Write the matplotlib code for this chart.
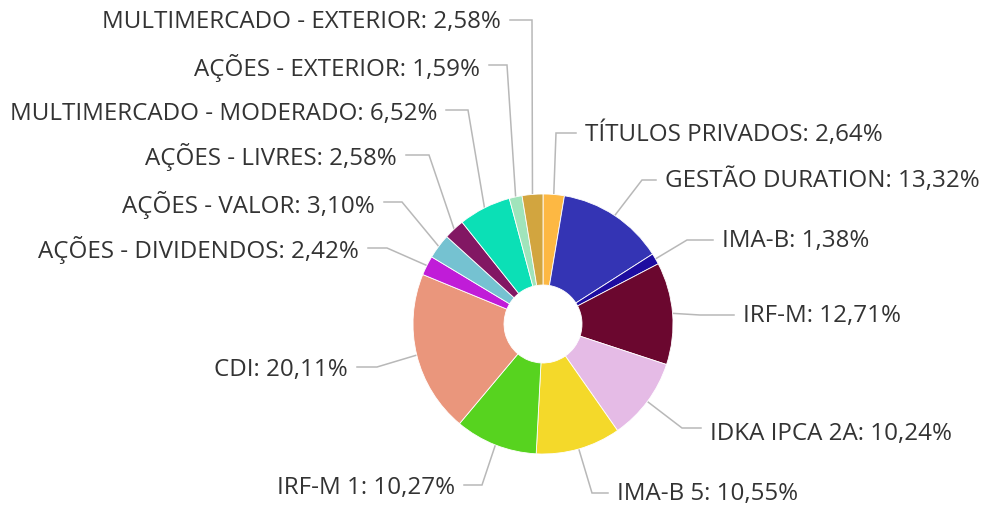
import numpy as np
import matplotlib
matplotlib.use("Agg")
from matplotlib import pyplot as plt

W, H = 983, 507

labels = ["TÍTULOS PRIVADOS", "GESTÃO DURATION", "IMA-B", "IRF-M", "IDKA IPCA 2A",
          "IMA-B 5", "IRF-M 1", "CDI", "AÇÕES - DIVIDENDOS", "AÇÕES - VALOR",
          "AÇÕES - LIVRES", "MULTIMERCADO - MODERADO", "AÇÕES - EXTERIOR",
          "MULTIMERCADO - EXTERIOR"]
values = [2.64, 13.32, 1.38, 12.71, 10.24, 10.55, 10.27, 20.11, 2.42, 3.10,
          2.58, 6.52, 1.59, 2.58]
colors = ["#FDB843", "#3434B4", "#1D0CA0", "#6B072F", "#E5BBE6", "#F4D92A",
          "#57D31F", "#EA967C", "#C01CD8", "#75C2D1", "#821763", "#0BE0B6",
          "#A0E4BB", "#D2A53F"]

# label layout (pixel coords, y from top): text y, bend x, text edge x
label_y = [134, 181, 241, 316, 434, 494, 488, 370, 250, 205, 157, 114, 68, 22]
bend_x = [556, 642, 687, 700, 682, 592, 482, 377, 387, 402, 429, 468, 507, 532]
text_x = [585, 665, 722, 743, 710, 617, 455, 348, 359, 375, 397, 437, 480, 501]
line_y = [133, 180, 240, 315, 428, 493, 485, 367, 248, 202, 155, 110, 65, 20]

cx, cy, R, r_hole = 543, 324, 130, 39

fig = plt.figure(figsize=(W / 100, H / 100), dpi=100)
ax = fig.add_axes([0, 0, 1, 1])

wedges, _ = ax.pie(values, colors=colors, startangle=90, counterclock=False,
                   center=(cx, H - cy), radius=R,
                   wedgeprops=dict(width=R - r_hole, edgecolor="white", linewidth=0.6))
ax.set_xlim(0, W)
ax.set_ylim(0, H)
ax.set_aspect("equal")
ax.axis("off")

total = sum(values)
cum = np.cumsum([0] + values[:-1])
for i, lab in enumerate(labels):
    mid = np.deg2rad(90 - (cum[i] + values[i] / 2) / total * 360)
    ex = cx + R * np.cos(mid)
    ey = cy - R * np.sin(mid)
    right = text_x[i] > bend_x[i]
    end_x = text_x[i] - 9 if right else text_x[i] + 9
    xs = [ex, bend_x[i], end_x]
    ys = [H - ey, H - line_y[i], H - line_y[i]]
    ax.plot(xs, ys, color="#b8b8b8", lw=1.1, zorder=0, solid_joinstyle="miter")
    txt = "{}: {}%".format(lab, ("%.2f" % values[i]).replace(".", ","))
    ax.text(text_x[i], H - label_y[i], txt, ha="left" if right else "right",
            va="center", fontsize=17.4, color="#333333", family="Open Sans")

fig.savefig("out.png", dpi=100)
